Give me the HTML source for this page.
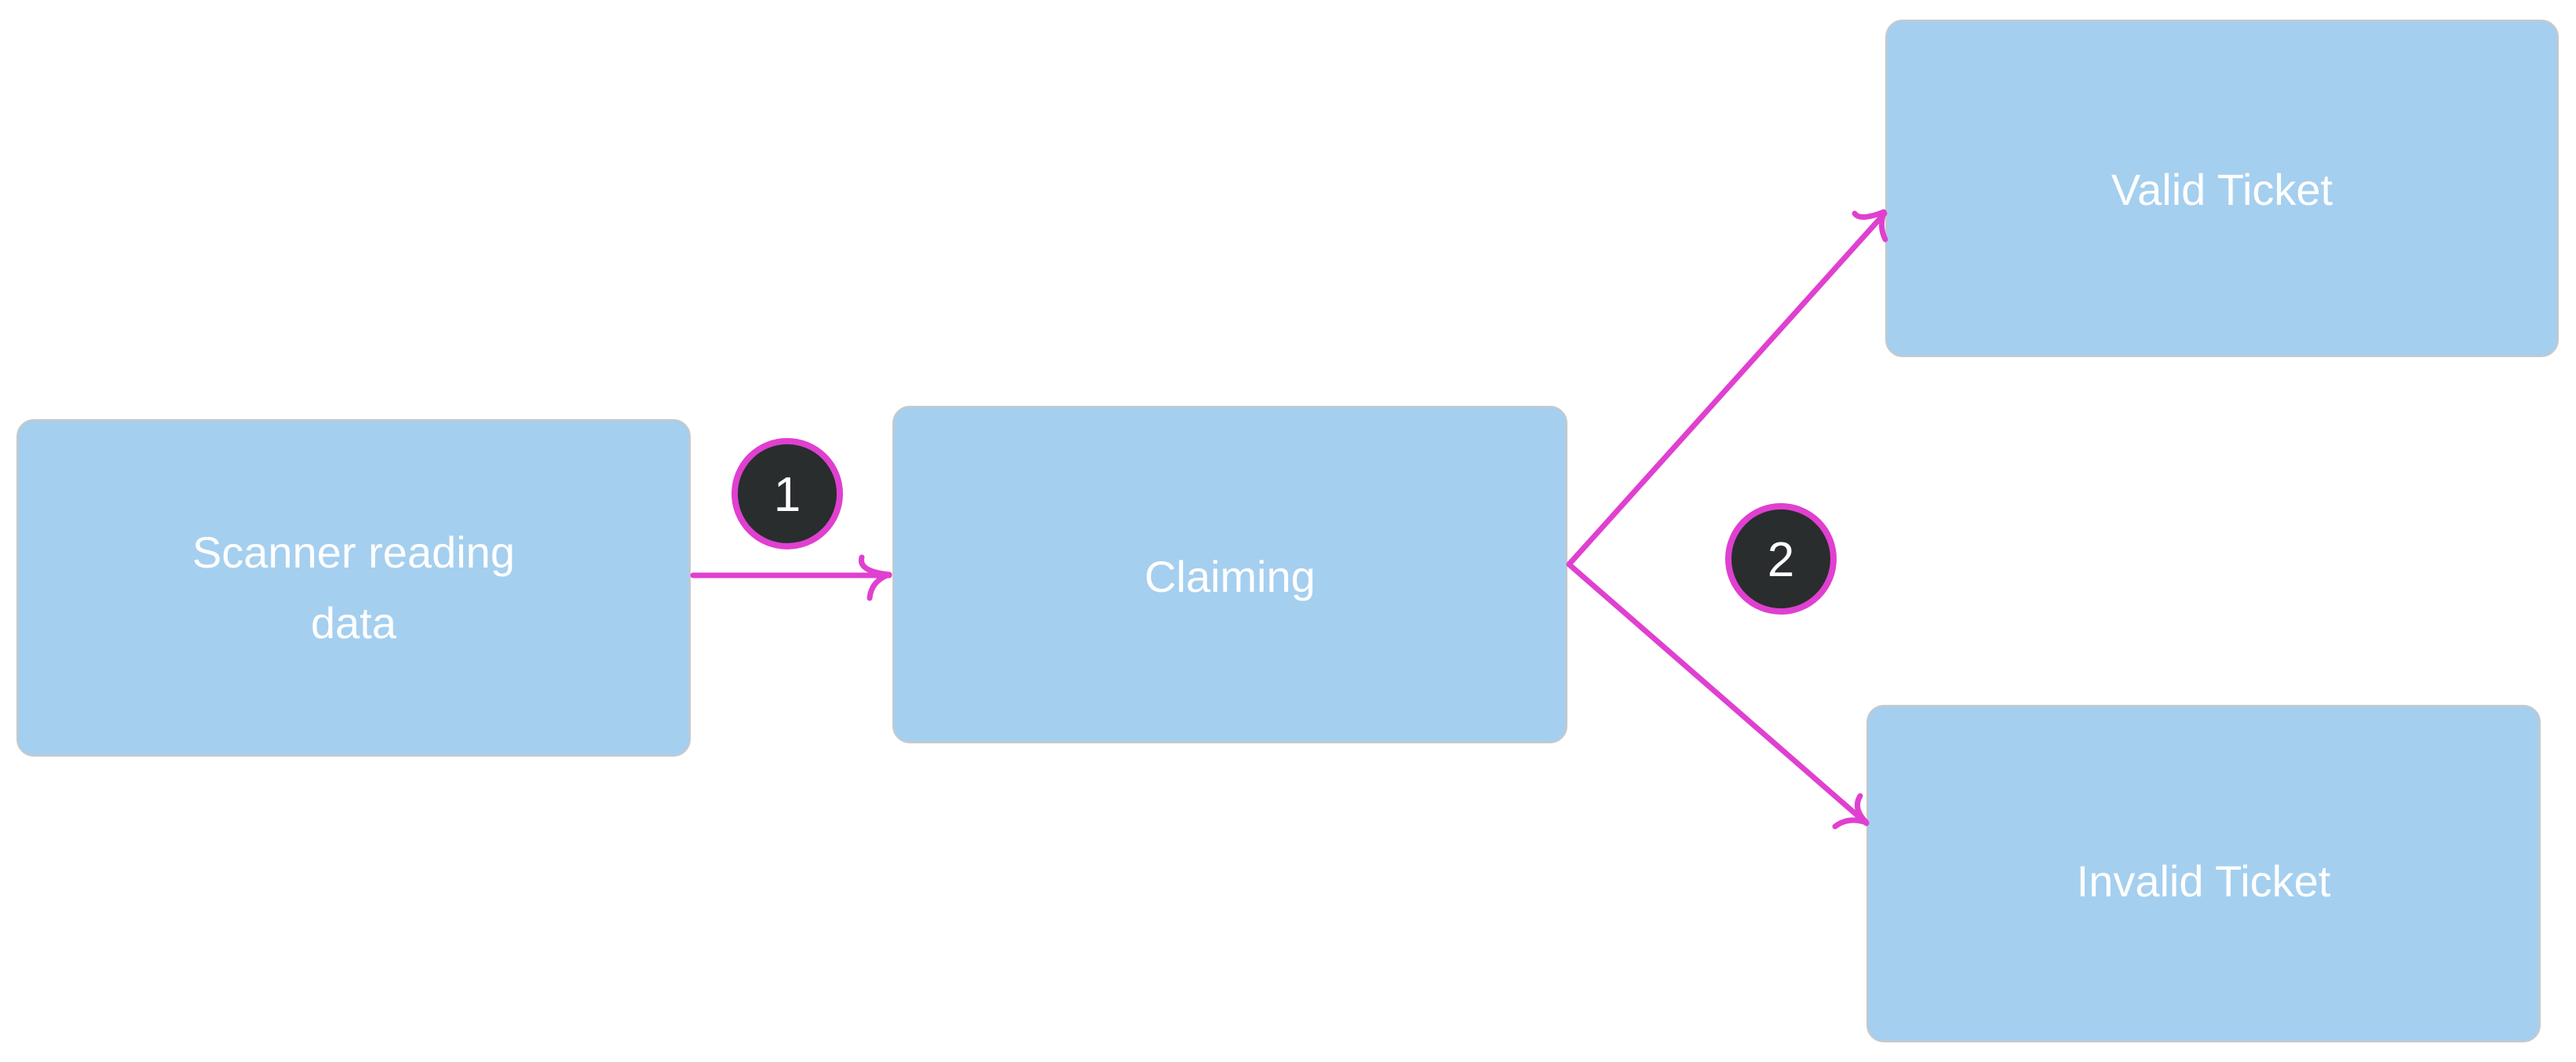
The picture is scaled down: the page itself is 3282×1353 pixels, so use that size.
<!DOCTYPE html>
<html><head><style>
html,body{margin:0;padding:0;background:#fff;}
body{width:3282px;height:1353px;position:relative;overflow:hidden;font-family:"Liberation Sans",sans-serif;}
.b{position:absolute;background:#a5cfef;border:2px solid #c8c8c8;border-radius:22px;box-sizing:border-box;color:#fff;font-size:56px;font-weight:300;display:flex;align-items:center;justify-content:center;text-align:center;line-height:1.6;}
</style></head><body>
<div class="b" style="left:21px;top:534px;width:859px;height:430px;">Scanner reading<br>data</div>
<div class="b" style="left:1137px;top:517px;width:860px;height:430px;padding-top:6px;">Claiming</div>
<div class="b" style="left:2402px;top:25px;width:858px;height:430px;padding-top:4px;">Valid Ticket</div>
<div class="b" style="left:2378px;top:898px;width:859px;height:430px;padding-top:20px;">Invalid Ticket</div>
<svg width="3282" height="1353" style="position:absolute;left:0;top:0" xmlns="http://www.w3.org/2000/svg">
<g stroke="#e040d0" stroke-width="7" fill="none" stroke-linecap="round" stroke-linejoin="round">
<line x1="883" y1="733" x2="1133" y2="733"/>
<path d="M1098 710 Q1093 728 1133 732 Q1110 740 1108 762"/>
<polyline points="2401,272 1999,719 2378,1049"/>
<path d="M2363 272 Q2370 282 2400 270 Q2394 290 2402 305"/>
<path d="M2370 1014 Q2360 1030 2378 1048 Q2355 1040 2338 1053"/>
</g>
<circle cx="1003" cy="629" r="67" fill="#292d2e" stroke="#e040d0" stroke-width="8"/>
<text x="1003" y="651" fill="#fff" font-size="62" text-anchor="middle" font-family="Liberation Sans, sans-serif">1</text>
<circle cx="2269" cy="712" r="67" fill="#292d2e" stroke="#e040d0" stroke-width="8"/>
<text x="2269" y="734" fill="#fff" font-size="62" text-anchor="middle" font-family="Liberation Sans, sans-serif">2</text>
</svg>
</body></html>
